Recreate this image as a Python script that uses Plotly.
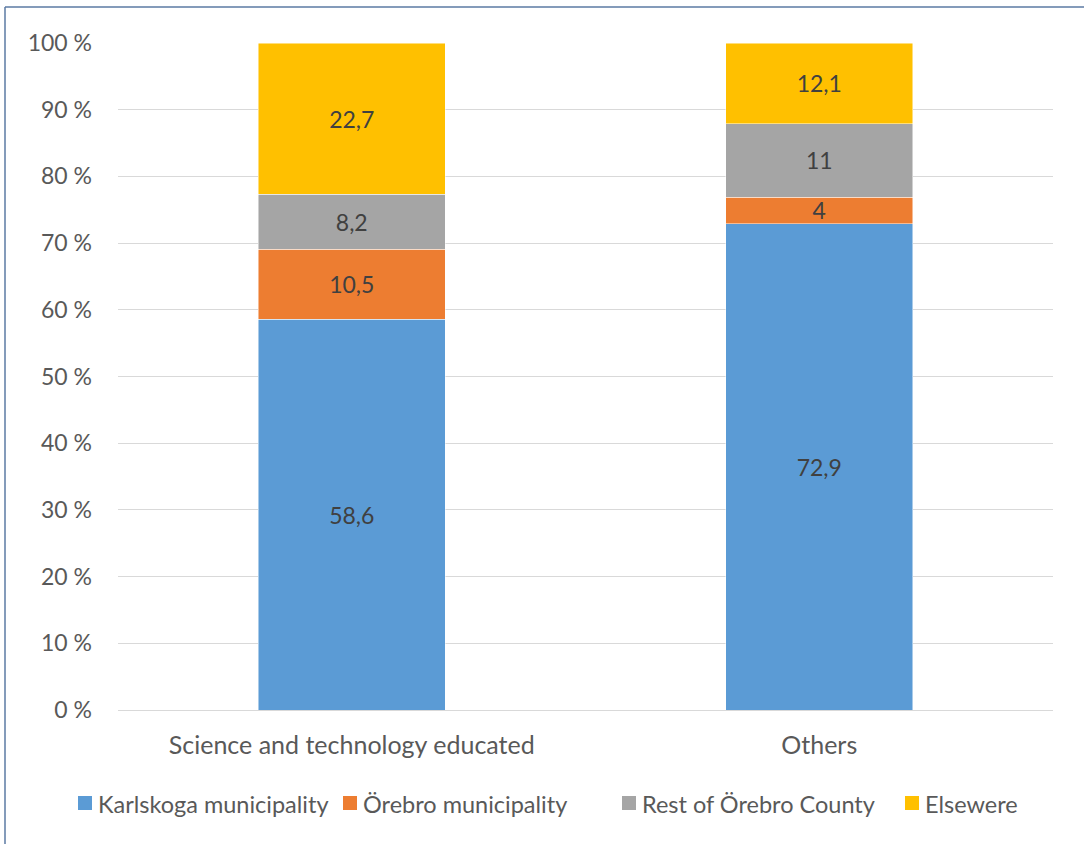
import plotly.graph_objects as go

categories = ["Science and technology educated", "Others"]
series_names = ["Karlskoga municipality", "Örebro municipality", "Rest of Örebro County", "Elsewere"]
karlskoga = [58.6, 72.9]
orebro = [10.5, 4]
rest_county = [8.2, 11]
elsewhere = [22.7, 12.1]
tick_vals = [0, 10, 20, 30, 40, 50, 60, 70, 80, 90, 100]
tick_text = [f"{v} %" for v in tick_vals]

colors = ["#5B9BD5", "#ED7D31", "#A5A5A5", "#FFC000"]
series = [karlskoga, orebro, rest_county, elsewhere]

# legend layout (pixel positions of the symbols, left edge)
legend_px = [78, 343, 622, 905]
legend_y_px = 803

def fmt(v):
    s = f"{v:g}"
    return s.replace(".", ",")

FONT = "Lato, Carlito, Calibri, sans-serif"
TXT = "#595959"

fig = go.Figure()
for name, vals, col in zip(series_names, series, colors):
    fig.add_trace(go.Bar(
        x=categories, y=vals, name=name,
        marker=dict(color=col, line=dict(color="rgba(255,255,255,0.6)", width=0.8)),
        text=[fmt(v) for v in vals],
        textposition="inside", insidetextanchor="middle",
        textangle=0, constraintext="none",
        textfont=dict(family=FONT, size=23, color="#404040"),
        hoverinfo="skip", showlegend=False,
    ))

L, R, T, B = 118, 31, 43, 134
W, H = 1084, 844
pw, ph = W - L - R, H - T - B
px2x = lambda p: (p - L) / pw
py2y = lambda p: (T + ph - p) / ph
bx0 = px2x(5)
by1 = py2y(7)

shapes = [
    dict(type="line", xref="paper", yref="paper", x0=bx0, x1=1.2, y0=by1, y1=by1,
         line=dict(color="#5B7AA3", width=1.5)),
    dict(type="line", xref="paper", yref="paper", x0=bx0, x1=bx0, y0=-0.3, y1=by1,
         line=dict(color="#5B7AA3", width=1.5)),
]
annotations = []
for name, col, p in zip(series_names, colors, legend_px):
    shapes.append(dict(type="rect", xref="paper", yref="paper",
                       x0=px2x(p), x1=px2x(p + 14),
                       y0=py2y(legend_y_px + 7), y1=py2y(legend_y_px - 7),
                       fillcolor=col, line=dict(width=0)))
    annotations.append(dict(xref="paper", yref="paper", x=px2x(p + 18), y=py2y(legend_y_px + 1),
                            xanchor="left", yanchor="middle", text=name, showarrow=False,
                            font=dict(family=FONT, size=23.5, color=TXT)))

fig.update_layout(
    width=W, height=H,
    barmode="stack", bargap=0.6,
    margin=dict(l=L, r=R, t=T, b=B, pad=0),
    paper_bgcolor="white", plot_bgcolor="white",
    font=dict(family=FONT, size=20, color=TXT),
    showlegend=False,
    xaxis=dict(showgrid=False, showline=False, ticks="", ticklabelstandoff=18,
               tickfont=dict(size=25, color=TXT)),
    yaxis=dict(range=[0, 100], tickvals=tick_vals, ticktext=tick_text,
               showgrid=True, gridcolor="#D9D9D9", gridwidth=1.3,
               zeroline=True, zerolinecolor="#D9D9D9", zerolinewidth=1.3,
               ticks="", ticklabelstandoff=25, tickfont=dict(size=23, color=TXT)),
    shapes=shapes,
    annotations=annotations,
)

fig.write_html("out.html")
